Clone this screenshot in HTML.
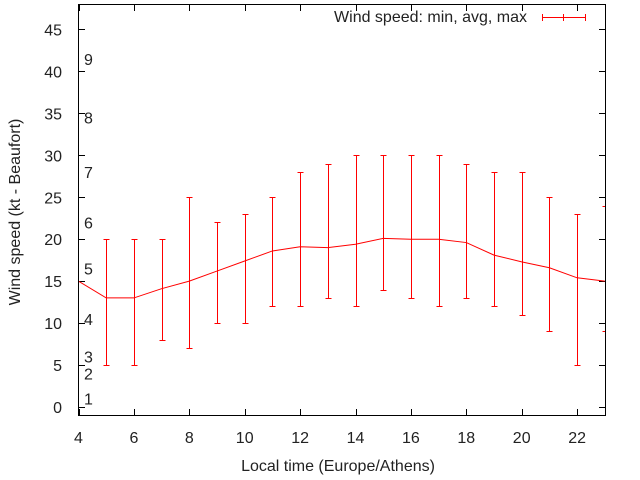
<!DOCTYPE html>
<html><head><meta charset="utf-8"><style>
body{margin:0;background:#fff}
svg{display:block;font-family:"Liberation Sans",sans-serif;font-size:16px;fill:#222}
line,rect{shape-rendering:crispEdges}
</style></head><body>
<svg id="c" width="640" height="480">
<defs><clipPath id="clip"><rect x="78.5" y="4.5" width="527" height="411"/></clipPath></defs>
<g id="axes"></g>
<g id="plot" clip-path="url(#clip)"></g>
<rect x="78.5" y="4.5" width="527" height="411" fill="none" stroke="#000"/>
<text x="16" y="212" transform="rotate(-90 16 212)" text-anchor="middle" dominant-baseline="middle">Wind speed (kt - Beaufort)</text>
<text x="338" y="471" text-anchor="middle">Local time (Europe/Athens)</text>
<g>
<text x="527" y="22" text-anchor="end">Wind speed: min, avg, max</text>
<line x1="542" y1="17.5" x2="585" y2="17.5" stroke="red"/>
<line x1="542.5" y1="14" x2="542.5" y2="21" stroke="red"/>
<line x1="585.5" y1="14" x2="585.5" y2="21" stroke="red"/>
<line x1="563.5" y1="14" x2="563.5" y2="21" stroke="red"/>
</g>
</svg>
<script>
const hours=[4,5,6,7,8,9,10,11,12,13,14,15,16,17,18,19,20,21,22,23];
const avgs=[15,13,13,14.1,15,16.2,17.4,18.6,19.1,19,19.4,20.1,20,20,19.6,18.1,17.3,16.6,15.4,15];
const mins=[null,5,5,8,7,10,10,12,12,13,12,14,13,12,13,12,11,9,5,9];
const maxs=[null,20,20,20,25,22,23,25,28,29,30,30,30,30,29,28,28,25,23,24];
const yTicks=[0,5,10,15,20,25,30,35,40,45];
const xTicks=[4,6,8,10,12,14,16,18,20,22];
const bft=[1,2,3,4,5,6,7,8,9];
const bftY=[1,4,6,10.5,16.5,22,28,34.5,41.5];
const NS='http://www.w3.org/2000/svg';
const X=h=>78.5+(h-4)*27.7;
const Y=v=>407-v*8.39;
const axes=document.getElementById('axes'),plot=document.getElementById('plot');
function mk(tag,attrs,parent){const e=document.createElementNS(NS,tag);for(const k in attrs)e.setAttribute(k,attrs[k]);parent.appendChild(e);return e;}
yTicks.forEach(v=>{
 const y=Math.round(Y(v))+0.5;
 const t=mk('line',{x1:78.5,x2:85,y1:y,y2:y,stroke:'#000'},axes);
 
 
 const r=mk('line',{x1:599,x2:605.5,y1:y,y2:y,stroke:'#000'},axes);
 
 
 const l=mk('text',{x:62,y:Y(v)+6,'text-anchor':'end'},axes);l.textContent=v;
 
 
});
xTicks.forEach(h=>{
 const x=Math.round(X(h))+0.5;
 const t=mk('line',{x1:x,x2:x,y1:415.5,y2:409,stroke:'#000'},axes);
 
 
 const u=mk('line',{x1:x,x2:x,y1:4.5,y2:11,stroke:'#000'},axes);
 
 
 const l=mk('text',{x:X(h),y:443,'text-anchor':'middle'},axes);l.textContent=h;
 
 
});
bft.forEach((b,i)=>{
 const l=mk('text',{x:84,y:Y(bftY[i])+6},axes);l.textContent=b;
 
 
});
const line=mk('polyline',{points:hours.map((h,i)=>X(h)+','+Y(avgs[i])).join(' '),fill:'none',stroke:'#ff0000'},plot);


hours.forEach((h,i)=>{
 if(mins[i]==null)return;
 const x=Math.round(X(h))+0.5;
 const g=mk('g',{},plot);
 
 
 const y1=Math.round(Y(mins[i]))+0.5,y2=Math.round(Y(maxs[i]))+0.5;
 mk('line',{x1:x,x2:x,y1:y1,y2:y2,stroke:'#ff0000'},g);
 mk('line',{x1:x-3,x2:x+3,y1:y1,y2:y1,stroke:'#ff0000'},g);
 mk('line',{x1:x-3,x2:x+3,y1:y2,y2:y2,stroke:'#ff0000'},g);
});
</script>
</body></html>
